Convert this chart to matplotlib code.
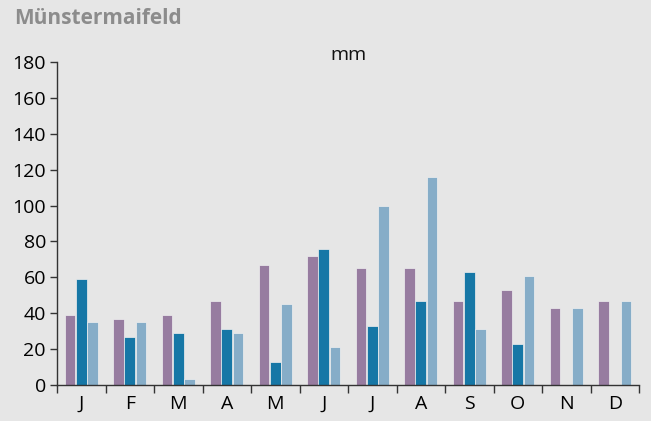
import numpy as np
import matplotlib.pyplot as plt
from matplotlib.ticker import FixedLocator

# Data (mm)
months = ['J', 'F', 'M', 'A', 'M', 'J', 'J', 'A', 'S', 'O', 'N', 'D']
series_a = [39, 37, 39, 47, 67, 72, 65, 65, 47, 53, 43, 47]
series_b = [59, 27, 29, 31, 13, 76, 33, 47, 63, 23, np.nan, np.nan]
series_c = [35, 35, 3.5, 29, 45, 21, 100, 116, 31, 61, 43, 47]

colors = ['#977ca0', '#1677a6', '#86adc8']
bg = '#e6e6e6'

plt.rcParams['font.family'] = ['Open Sans', 'DejaVu Sans']

fig = plt.figure(figsize=(6.51, 4.21), dpi=100, facecolor=bg)
ax = fig.add_axes([57 / 651, 1 - 385 / 421, (639 - 57) / 651, (385 - 62) / 421])
ax.set_facecolor(bg)

x = np.arange(len(months)) + 0.5
w = 0.22
for off, vals, c in zip([-0.235, 0, 0.235], [series_a, series_b, series_c], colors):
    ax.bar(x + off, vals, width=w, color=c, edgecolor='#f0f0f0', linewidth=0.5)

ax.set_xlim(0, 12)
ax.set_ylim(0, 180)
ax.set_yticks(np.arange(0, 181, 20))
ax.tick_params(axis='y', length=5, width=1, labelsize=14, pad=3, color='#333333')

ax.set_xticks(x)
ax.set_xticklabels(months)
ax.xaxis.set_minor_locator(FixedLocator(np.arange(0, 13)))
ax.tick_params(axis='x', which='major', length=0, labelsize=14, pad=7)
ax.tick_params(axis='x', which='minor', length=6, width=1, color='#333333')

for s in ['top', 'right']:
    ax.spines[s].set_visible(False)
for s in ['left', 'bottom']:
    ax.spines[s].set_color('#333333')
    ax.spines[s].set_linewidth(1)

fig.text(14 / 651, 1 - 18 / 421, 'Münstermaifeld', fontsize=15, fontweight='bold',
         color='#8c8c8c', ha='left', va='center')
fig.text(348 / 651, 1 - 55 / 421, 'mm', fontsize=14, color='#111111', ha='center', va='center')

fig.savefig('out.png', dpi=100, facecolor=bg)
